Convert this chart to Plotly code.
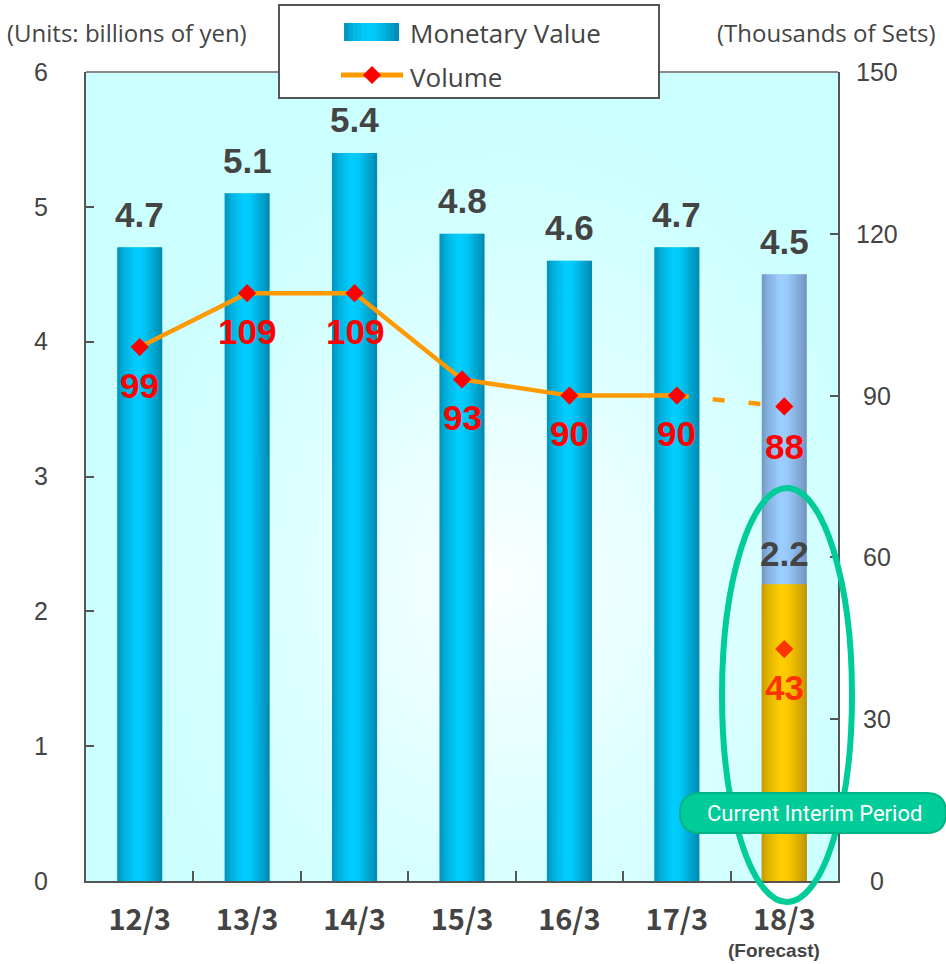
import base64
import struct
import zlib

import numpy as np
import plotly.graph_objects as go

# ---------------- data ----------------
categories = ["12/3", "13/3", "14/3", "15/3", "16/3", "17/3", "18/3"]
money = [4.7, 5.1, 5.4, 4.8, 4.6, 4.7, 4.5]          # billions of yen (18/3 = forecast)
money_labels = ["4.7", "5.1", "5.4", "4.8", "4.6", "4.7", "4.5"]
interim_money = 2.2                                   # 18/3 current interim period
interim_money_label = "2.2"
volume = [99, 109, 109, 93, 90, 90]                   # thousands of sets, 12/3..17/3
volume_forecast = 88                                  # 18/3 forecast
interim_volume = 43                                   # 18/3 current interim
left_ticks = [0, 1, 2, 3, 4, 5, 6]
right_ticks = [0, 30, 60, 90, 120, 150]

# ---------------- geometry helpers (pixel -> paper) ----------------
W_FIG, H_FIG = 946, 964
L, R, T, B = 86, 838, 72, 881
PW, PH = R - L, B - T


def px(x):
    return (x - L) / PW


def py(y):
    return (B - y) / PH


def lerp_stops(stops, t):
    for (t0, c0), (t1, c1) in zip(stops[:-1], stops[1:]):
        if t0 <= t <= t1:
            f = (t - t0) / (t1 - t0) if t1 > t0 else 0
            return tuple(int(round(a + (b - a) * f)) for a, b in zip(c0, c1))
    return stops[-1][1]


def rgb(c):
    return "rgb(%d,%d,%d)" % c


blue_stops = [(0, (0, 146, 186)), (0.15, (0, 176, 220)), (0.42, (0, 206, 255)),
              (0.58, (0, 200, 248)), (0.85, (0, 160, 202)), (1, (0, 136, 176))]
lb_stops = [(0, (116, 150, 194)), (0.15, (134, 178, 226)), (0.42, (156, 207, 255)),
            (0.58, (150, 200, 250)), (0.85, (128, 166, 212)), (1, (114, 148, 190))]
gold_stops = [(0, (196, 155, 0)), (0.15, (226, 180, 0)), (0.42, (255, 206, 0)),
              (0.58, (252, 200, 0)), (0.85, (214, 170, 0)), (1, (190, 150, 0))]

# ---------------- background radial gradient (PNG) ----------------
def make_png(arr):
    h, w, _ = arr.shape
    raw = b"".join(b"\x00" + arr[i].astype(np.uint8).tobytes() for i in range(h))

    def chunk(tag, data):
        c = struct.pack(">I", len(data)) + tag + data
        return c + struct.pack(">I", zlib.crc32(tag + data) & 0xFFFFFFFF)

    png = b"\x89PNG\r\n\x1a\n"
    png += chunk(b"IHDR", struct.pack(">IIBBBBB", w, h, 8, 2, 0, 0, 0))
    png += chunk(b"IDAT", zlib.compress(raw, 9))
    png += chunk(b"IEND", b"")
    return "data:image/png;base64," + base64.b64encode(png).decode()


S = 4
gw, gh = PW // S, PH // S
jj, ii = np.meshgrid(np.arange(gw), np.arange(gh))
X = L + (jj + 0.5) * S
Y = T + (ii + 0.5) * S
d = np.sqrt((X - 505) ** 2 + ((Y - 580) / 1.15) ** 2)
tt = np.clip(d / 430, 0, 1)
f = (1 - tt) ** 1.4 * 0.95
cyan = np.array([204, 255, 255])
white = np.array([255, 255, 255])
bg = cyan[None, None, :] + (white - cyan)[None, None, :] * f[:, :, None]
bg_uri = make_png(np.clip(bg, 0, 255))

# ---------------- traces ----------------
xs = list(range(len(categories)))
fig = go.Figure()

bw = 0.42
N = 16
for i in range(N):
    t = (i + 0.5) / N
    off = -bw / 2 + i * bw / N
    wdt = bw / N * (1.0 if i == N - 1 else 1.4)
    cols = [rgb(lerp_stops(blue_stops, t))] * (len(categories) - 1) + [rgb(lerp_stops(lb_stops, t))]
    fig.add_trace(go.Bar(x=xs, y=money, width=wdt, offset=off, marker=dict(color=cols, line=dict(width=0)),
                         yaxis="y", hoverinfo="skip", showlegend=False))
for i in range(N):
    t = (i + 0.5) / N
    off = -bw / 2 + i * bw / N
    wdt = bw / N * (1.0 if i == N - 1 else 1.4)
    yv = [None] * (len(categories) - 1) + [interim_money]
    fig.add_trace(go.Bar(x=xs, y=yv, width=wdt, offset=off,
                         marker=dict(color=rgb(lerp_stops(gold_stops, t)), line=dict(width=0)),
                         yaxis="y", hoverinfo="skip", showlegend=False))

n = len(volume)
# dashed forecast connector
fig.add_trace(go.Scatter(x=[xs[n - 1], xs[n]], y=[volume[-1], volume_forecast], mode="lines",
                         line=dict(color="#ff9900", width=4.5, dash="12px,24px"),
                         yaxis="y2", hoverinfo="skip", showlegend=False))
fig.add_trace(go.Scatter(x=xs[:n], y=volume, mode="lines+markers",
                         line=dict(color="#ff9900", width=4.5),
                         marker=dict(symbol="diamond", size=14, color="#ff0000"),
                         yaxis="y2", hoverinfo="skip", showlegend=False))
fig.add_trace(go.Scatter(x=[xs[n]], y=[volume_forecast], mode="markers",
                         marker=dict(symbol="diamond", size=14, color="#ff0000"),
                         yaxis="y2", hoverinfo="skip", showlegend=False))
fig.add_trace(go.Scatter(x=[xs[n]], y=[interim_volume], mode="markers",
                         marker=dict(symbol="diamond", size=14, color="#ff3300"),
                         yaxis="y2", hoverinfo="skip", showlegend=False))

# ---------------- annotations ----------------
NUMFONT = "Liberation Sans, Arial, sans-serif"
TXTFONT = "Open Sans, Liberation Sans, sans-serif"
ann = []


def A(**kw):
    kw.setdefault("showarrow", False)
    kw.setdefault("xanchor", "center")
    kw.setdefault("yanchor", "middle")
    ann.append(kw)


for i, (v, lab) in enumerate(zip(money, money_labels)):
    A(x=xs[i], y=v, xref="x", yref="y", text="<b>%s</b>" % lab, yshift=33,
      font=dict(family=NUMFONT, size=35, color="#444444"))
A(x=xs[-1], y=interim_money, xref="x", yref="y", text="<b>%s</b>" % interim_money_label, yshift=31,
  font=dict(family=NUMFONT, size=35, color="#444444"))
for i, v in enumerate(volume):
    A(x=xs[i], y=v, xref="x", yref="y2", text="<b>%d</b>" % v, yshift=-38,
      font=dict(family=NUMFONT, size=35, color="#ff0000"))
A(x=xs[n], y=volume_forecast, xref="x", yref="y2", text="<b>%d</b>" % volume_forecast, yshift=-40,
  font=dict(family=NUMFONT, size=35, color="#ff0000"))
A(x=xs[n], y=interim_volume, xref="x", yref="y2", text="<b>%d</b>" % interim_volume, yshift=-38,
  font=dict(family=NUMFONT, size=35, color="#ff3300"))
# right axis tick labels (centered)
for v in right_ticks:
    A(x=px(877), y=v, xref="paper", yref="y2", text=str(v),
      font=dict(family=NUMFONT, size=25, color="#444444"))
# axis titles
A(x=px(5), y=py(33), xref="paper", yref="paper", text="(Units: billions of yen)", xanchor="left",
  font=dict(family=TXTFONT, size=24, color="#444444"))
A(x=px(937), y=py(33), xref="paper", yref="paper", text="(Thousands of Sets)", xanchor="right",
  font=dict(family=TXTFONT, size=24, color="#444444"))
# forecast note
A(x=xs[-1], y=py(950), xref="x", yref="paper", text="<b>(Forecast)</b>", xshift=-10,
  font=dict(family=NUMFONT, size=19, color="#444444"))
# legend text
A(x=px(408), y=py(33), xref="paper", yref="paper", text="Monetary Value", xanchor="left",
  font=dict(family=TXTFONT, size=26, color="#444444"))
A(x=px(408), y=py(77), xref="paper", yref="paper", text="Volume", xanchor="left",
  font=dict(family=TXTFONT, size=26, color="#444444"))
# badge text
A(x=px(814), y=py(813), xref="paper", yref="paper", text="Current Interim Period",
  font=dict(family="Roboto, sans-serif", size=22, color="#ffffff"))

# ---------------- shapes ----------------
shapes = []
# top frame line
shapes.append(dict(type="line", xref="paper", yref="paper", x0=0, x1=1, y0=1, y1=1,
                   line=dict(color="#8a8a8a", width=2), layer="above"))
# legend box
shapes.append(dict(type="rect", xref="paper", yref="paper", x0=px(279), x1=px(659), y0=py(98), y1=py(5),
                   fillcolor="#ffffff", line=dict(color="#555555", width=2), layer="above"))
# legend bar icon gradient
NI = 12
for i in range(NI):
    x0 = 344 + i * 55 / NI
    x1 = 344 + (i + 1) * 55 / NI + (0.6 if i < NI - 1 else 0)
    shapes.append(dict(type="rect", xref="paper", yref="paper", x0=px(x0), x1=px(x1), y0=py(41), y1=py(23),
                       fillcolor=rgb(lerp_stops(blue_stops, (i + 0.5) / NI)), line=dict(width=0), layer="above"))
# legend line icon
shapes.append(dict(type="line", xref="paper", yref="paper", x0=px(341), x1=px(403), y0=py(75), y1=py(75),
                   line=dict(color="#ff9900", width=5), layer="above"))
cx, cy, hs = 372, 75, 9
shapes.append(dict(type="path", xref="paper", yref="paper",
                   path="M %f %f L %f %f L %f %f L %f %f Z" % (px(cx - hs), py(cy), px(cx), py(cy - hs),
                                                              px(cx + hs), py(cy), px(cx), py(cy + hs)),
                   fillcolor="#ff0000", line=dict(width=0), layer="above"))
# green ellipse
shapes.append(dict(type="circle", xref="paper", yref="paper", x0=px(722), x1=px(852), y0=py(902), y1=py(488),
                   line=dict(color="#00cc99", width=6), layer="above"))
# badge (rounded pill)
bx0, bx1, by0, by1, r = 680, 946, 793, 833, 20


def P(x, y):
    return "%f %f" % (px(x), py(y))


badge = ("M " + P(bx0 + r, by0) + " L " + P(bx1 - r, by0) + " Q " + P(bx1, by0) + " " + P(bx1, by0 + r) +
         " Q " + P(bx1, by1) + " " + P(bx1 - r, by1) + " L " + P(bx0 + r, by1) +
         " Q " + P(bx0, by1) + " " + P(bx0, by1 - r) + " Q " + P(bx0, by0) + " " + P(bx0 + r, by0) + " Z")
shapes.append(dict(type="path", xref="paper", yref="paper", path=badge, fillcolor="#00cc99",
                   line=dict(color="#00b386", width=2), layer="above"))

# ---------------- layout ----------------
fig.update_layout(
    width=W_FIG, height=H_FIG, autosize=False,
    margin=dict(l=L, r=W_FIG - R, t=T, b=H_FIG - B, pad=0),
    paper_bgcolor="#ffffff", plot_bgcolor="rgba(0,0,0,0)",
    barmode="overlay", showlegend=False,
    images=[dict(source=bg_uri, xref="paper", yref="paper", x=0, y=1, sizex=1, sizey=1,
                 sizing="stretch", layer="below", xanchor="left", yanchor="top")],
    xaxis=dict(range=[-0.5, len(categories) - 0.5], tickmode="array", tickvals=xs,
               ticktext=["<b>%s</b>" % c for c in categories],
               ticks="", showline=True, linecolor="#555555", linewidth=2, showgrid=False, zeroline=False,
               tickfont=dict(family="Noto Sans CJK JP, sans-serif", size=29, color="#444444"),
               ticklabelstandoff=12,
               minor=dict(tickmode="array", tickvals=[x + 0.5 for x in xs[:-1]], ticks="inside",
                          ticklen=10, tickcolor="#555555", tickwidth=1.5, showgrid=False)),
    yaxis=dict(range=[left_ticks[0], left_ticks[-1]], tickmode="array", tickvals=left_ticks,
               ticks="inside", ticklen=8, tickcolor="#555555", tickwidth=1.5,
               showline=True, linecolor="#555555", linewidth=2, showgrid=False, zeroline=False,
               tickfont=dict(family=NUMFONT, size=25, color="#444444"), ticklabelstandoff=31),
    yaxis2=dict(range=[right_ticks[0], right_ticks[-1]], tickmode="array", tickvals=right_ticks,
                overlaying="y", side="right", ticks="inside", ticklen=8, tickcolor="#555555", tickwidth=1.5,
                showline=True, linecolor="#555555", linewidth=2, showgrid=False, zeroline=False,
                showticklabels=False),
    annotations=ann, shapes=shapes,
)

fig.write_html("out.html")
